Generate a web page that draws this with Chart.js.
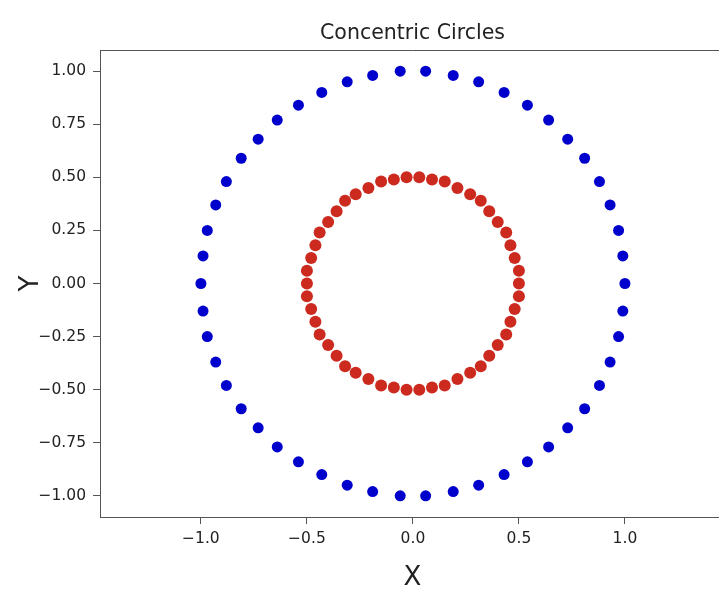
<!DOCTYPE html>
<html lang="en">
<head>
    <meta charset="UTF-8">
    <title>Concentric Circles</title>
    <style>
        body {
            margin: 0;
            background: white;
            overflow: hidden;
        }
        canvas {
            display: block;
        }
    </style>
    <script src="https://cdn.jsdelivr.net/npm/chart.js"></script>
</head>
<body>
    <!-- wider than the window on purpose: the reference is cropped on the right -->
    <canvas id="myChart" width="731" height="591"></canvas>
    <script>
        // outer ring (blue)
        const outerX = [1.00, 0.99, 0.97, 0.93, 0.88, 0.81, 0.73, 0.64, 0.54, 0.43, 0.31, 0.19, 0.06,
            -0.06, -0.19, -0.31, -0.43, -0.54, -0.64, -0.73, -0.81, -0.88, -0.93, -0.97, -0.99,
            -1.00, -0.99, -0.97, -0.93, -0.88, -0.81, -0.73, -0.64, -0.54, -0.43, -0.31, -0.19, -0.06,
            0.06, 0.19, 0.31, 0.43, 0.54, 0.64, 0.73, 0.81, 0.88, 0.93, 0.97, 0.99];
        const outerY = [0.00, 0.13, 0.25, 0.37, 0.48, 0.59, 0.68, 0.77, 0.84, 0.90, 0.95, 0.98, 1.00,
            1.00, 0.98, 0.95, 0.90, 0.84, 0.77, 0.68, 0.59, 0.48, 0.37, 0.25, 0.13,
            0.00, -0.13, -0.25, -0.37, -0.48, -0.59, -0.68, -0.77, -0.84, -0.90, -0.95, -0.98, -1.00,
            -1.00, -0.98, -0.95, -0.90, -0.84, -0.77, -0.68, -0.59, -0.48, -0.37, -0.25, -0.13];

        // inner ring (red)
        const innerX = [0.50, 0.50, 0.48, 0.46, 0.44, 0.40, 0.36, 0.32, 0.27, 0.21, 0.15, 0.09, 0.03,
            -0.03, -0.09, -0.15, -0.21, -0.27, -0.32, -0.36, -0.40, -0.44, -0.46, -0.48, -0.50,
            -0.50, -0.50, -0.48, -0.46, -0.44, -0.40, -0.36, -0.32, -0.27, -0.21, -0.15, -0.09, -0.03,
            0.03, 0.09, 0.15, 0.21, 0.27, 0.32, 0.36, 0.40, 0.44, 0.46, 0.48, 0.50];
        const innerY = [0.00, 0.06, 0.12, 0.18, 0.24, 0.29, 0.34, 0.39, 0.42, 0.45, 0.48, 0.49, 0.50,
            0.50, 0.49, 0.48, 0.45, 0.42, 0.39, 0.34, 0.29, 0.24, 0.18, 0.12, 0.06,
            0.00, -0.06, -0.12, -0.18, -0.24, -0.29, -0.34, -0.39, -0.42, -0.45, -0.48, -0.49, -0.50,
            -0.50, -0.49, -0.48, -0.45, -0.42, -0.39, -0.34, -0.29, -0.24, -0.18, -0.12, -0.06];

        const xTicks = [-1.0, -0.5, 0.0, 0.5, 1.0];
        const yTicks = [-1.00, -0.75, -0.50, -0.25, 0.00, 0.25, 0.50, 0.75, 1.00];

        const toPoints = (xs, ys) => xs.map((x, i) => ({ x: x, y: ys[i] }));
        // matplotlib style minus sign
        const fmt = (v, d) => v.toFixed(d).replace('-', '\u2212');

        // top + right spine (matplotlib box)
        const frame = {
            id: 'frame',
            afterDraw(chart) {
                const a = chart.chartArea;
                const c = chart.ctx;
                c.save();
                c.strokeStyle = '#555';
                c.lineWidth = 1;
                c.beginPath();
                c.moveTo(a.left, a.top + 0.5);
                c.lineTo(a.right, a.top + 0.5);
                c.lineTo(a.right, a.bottom);
                c.stroke();
                c.restore();
            }
        };

        const tickFont = { family: 'DejaVu Sans', size: 15.5 };

        const ctx = document.getElementById('myChart').getContext('2d');
        const myChart = new Chart(ctx, {
            type: 'scatter',
            data: {
                datasets: [{
                    label: 'outer',
                    data: toPoints(outerX, outerY),
                    backgroundColor: '#0000cd',
                    borderColor: '#0000cd',
                    pointRadius: 5.5,
                    borderWidth: 0
                }, {
                    label: 'inner',
                    data: toPoints(innerX, innerY),
                    backgroundColor: '#cc2a1e',
                    borderColor: '#cc2a1e',
                    pointRadius: 6,
                    borderWidth: 0
                }]
            },
            options: {
                responsive: false,
                animation: false,
                layout: { padding: 0 },
                plugins: {
                    legend: { display: false },
                    tooltip: { enabled: false },
                    title: {
                        display: true,
                        text: 'Concentric Circles',
                        fullSize: false,
                        color: '#222',
                        font: { family: 'DejaVu Sans', size: 20.5, weight: 'normal' },
                        padding: { top: 21, bottom: 4.4 }
                    }
                },
                scales: {
                    x: {
                        type: 'linear',
                        min: -1.476,
                        max: 1.472,
                        afterBuildTicks: s => { s.ticks = xTicks.map(v => ({ value: v })); },
                        afterFit: s => { s.height = 74; },
                        grid: { drawOnChartArea: false, drawTicks: true, tickLength: 7, color: '#555' },
                        border: { display: true, color: '#555' },
                        ticks: { color: '#222', font: tickFont, padding: 6, maxRotation: 0,
                            callback: v => fmt(v, 1) },
                        title: { display: true, text: 'X', color: '#222',
                            font: { family: 'DejaVu Sans', size: 26, lineHeight: 1 },
                            padding: { top: 0, bottom: 0 } }
                    },
                    y: {
                        type: 'linear',
                        min: -1.1,
                        max: 1.1,
                        afterBuildTicks: s => { s.ticks = yTicks.map(v => ({ value: v })); },
                        afterFit: s => { s.width = 100; },
                        grid: { drawOnChartArea: false, drawTicks: true, tickLength: 7, color: '#555' },
                        border: { display: true, color: '#555' },
                        ticks: { color: '#222', font: tickFont, padding: 7,
                            callback: v => fmt(v, 2) },
                        title: { display: true, text: 'Y', color: '#222',
                            font: { family: 'DejaVu Sans', size: 26, lineHeight: 1 },
                            padding: { top: 18, bottom: 0 } }
                    }
                }
            },
            plugins: [frame]
        });
    </script>
</body>
</html>
